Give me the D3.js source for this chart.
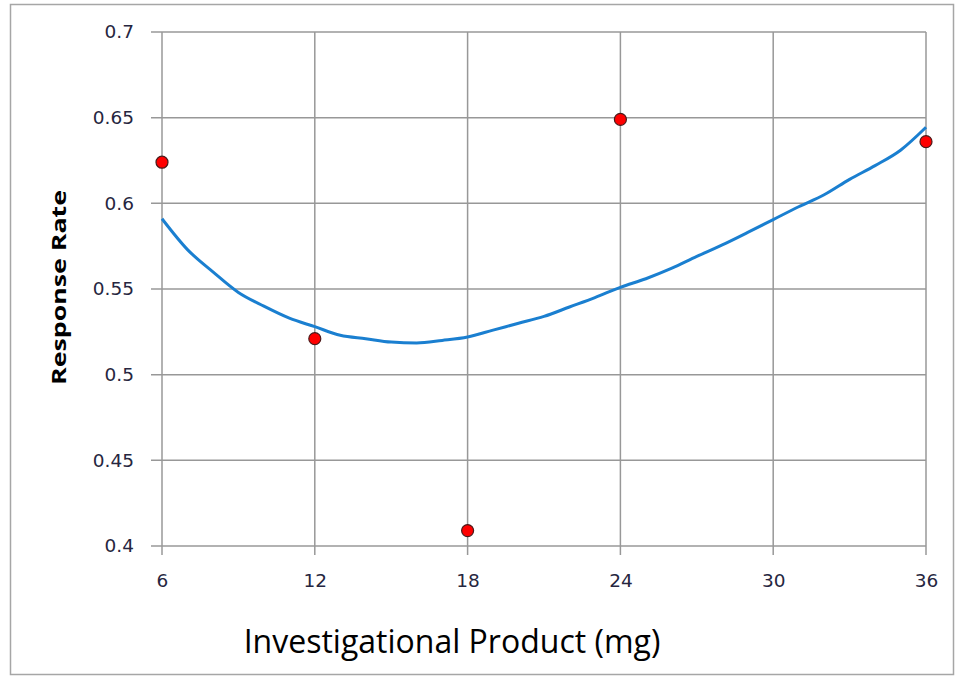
<!DOCTYPE html>
<html>
<head>
<meta charset="utf-8">
<script src="https://cdn.jsdelivr.net/npm/d3@7"></script>
<style>
  body { margin: 0; background: #fff; }
  svg { display: block; }
</style>
</head>
<body>
<svg id="canvas" width="955" height="677"></svg>
<script>
'use strict';

// observed response rates
const doses = [6, 12, 18, 24, 36];
const rates = [0.624, 0.521, 0.409, 0.649, 0.636];

const fitDoses = [6, 7, 8, 9, 10, 11, 12, 13, 14, 15, 16, 17, 18, 19, 20, 21,
    22, 23, 24, 25, 26, 27, 28, 29, 30, 31, 32, 33, 34, 35, 36];
const fitRates = [0.591, 0.573, 0.560, 0.548, 0.540, 0.533, 0.528, 0.523, 0.521, 0.519, 0.5185,
    0.520, 0.522, 0.526, 0.530, 0.534, 0.5395, 0.545, 0.551, 0.556, 0.562, 0.569,
    0.5757, 0.583, 0.5905, 0.598, 0.605, 0.614, 0.622, 0.631, 0.6444];

const xTicks = [6, 12, 18, 24, 30, 36];
const yTicks = [0.4, 0.45, 0.5, 0.55, 0.6, 0.65, 0.7];

const svg = d3.select('#canvas');

// outer chart border
svg.append('rect')
    .attr('x', 10.5).attr('y', 4.5)
    .attr('width', 943).attr('height', 670)
    .attr('fill', 'none')
    .attr('stroke', '#a6a6a6')
    .attr('stroke-width', 1.5);

const x = d3.scaleLinear().domain([6, 36]).range([162, 926]);
const y = d3.scaleLinear().domain([0.4, 0.7]).range([546, 32]);

// gridlines
const grid = svg.append('g').attr('class', 'grid');
grid.selectAll('line.v')
    .data(xTicks)
    .enter().append('line')
        .attr('class', 'v')
        .attr('x1', d => x(d)).attr('x2', d => x(d))
        .attr('y1', y(0.7)).attr('y2', y(0.4) + 9)
        .attr('stroke', '#989898').attr('stroke-width', 1.5);
grid.selectAll('line.h')
    .data(yTicks)
    .enter().append('line')
        .attr('class', 'h')
        .attr('x1', x(6) - 11).attr('x2', x(36))
        .attr('y1', d => y(d)).attr('y2', d => y(d))
        .attr('stroke', '#989898').attr('stroke-width', 1.5);

// axes (labels only, lines drawn by grid)
function styleTicks(g) {
    g.select('.domain').remove();
    g.selectAll('.tick text')
        .style('font-family', '"DejaVu Sans", Verdana, sans-serif')
        .style('font-size', '18.5px')
        .attr('fill', '#262640');
}

svg.append('g')
    .attr('transform', 'translate(0,' + y(0.4) + ')')
    .call(d3.axisBottom(x).tickValues(xTicks).tickSize(0).tickPadding(28).tickFormat(d3.format('d')))
    .call(styleTicks);

svg.append('g')
    .attr('transform', 'translate(' + x(6) + ',0)')
    .call(d3.axisLeft(y).tickValues(yTicks).tickSize(0).tickPadding(28).tickFormat(d => String(+d.toFixed(2))))
    .call(styleTicks);

// fitted curve
const line = d3.line()
    .x((d, i) => x(fitDoses[i]))
    .y(d => y(d))
    .curve(d3.curveMonotoneX);

svg.append('path')
    .datum(fitRates)
    .attr('d', line)
    .attr('fill', 'none')
    .attr('stroke', '#1a7fd0')
    .attr('stroke-width', 3);

// observed points
svg.append('g').selectAll('circle')
    .data(doses)
    .enter().append('circle')
        .attr('cx', d => x(d))
        .attr('cy', (d, i) => y(rates[i]))
        .attr('r', 6)
        .attr('fill', '#ff0000')
        .attr('stroke', '#4a1a1a')
        .attr('stroke-width', 1.2);

// axis titles
svg.append('text')
    .attr('x', 452).attr('y', 653)
    .attr('text-anchor', 'middle')
    .style('font-family', '"Open Sans", "DejaVu Sans", sans-serif')
    .style('font-size', '32px')
    .attr('fill', '#000')
    .text('Investigational Product (mg)');

svg.append('text')
    .attr('transform', 'translate(66,287.5) rotate(-90)')
    .attr('text-anchor', 'middle')
    .attr('textLength', 195)
    .attr('lengthAdjust', 'spacingAndGlyphs')
    .style('font-family', '"Open Sans", "DejaVu Sans", sans-serif')
    .style('font-size', '19px')
    .style('font-weight', 'bold')
    .attr('fill', '#000')
    .text('Response Rate');
</script>
</body>
</html>
